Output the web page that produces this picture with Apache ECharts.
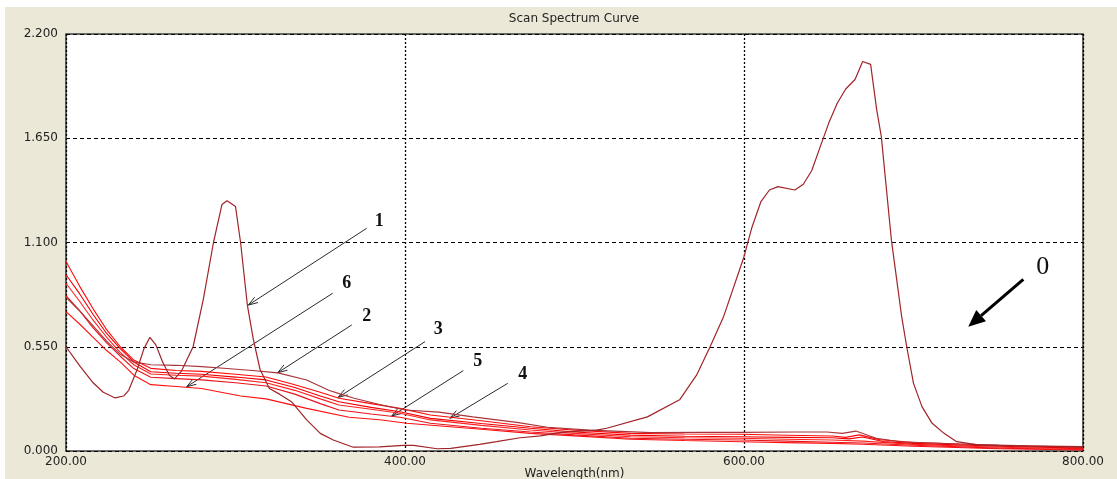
<!DOCTYPE html>
<html>
<head>
<meta charset="utf-8">
<script src="https://cdn.jsdelivr.net/npm/echarts@6/dist/echarts.min.js"></script>
<style>
  html, body { margin: 0; padding: 0; background: #ffffff; }
  #panel { position: absolute; left: 5px; top: 7px; width: 1112px; height: 472px; background: #ebe8d8; }
  #chart { position: absolute; left: 0; top: 0; width: 1117px; height: 479px; }
</style>
</head>
<body>
<div id="panel"></div>
<div id="chart"></div>
<script>
// Absorbance scans, [wavelength nm, absorbance]
const curveDye = [
  [200,0.55],[208,0.45],[216,0.36],[222,0.31],[229,0.28],[234,0.29],[237,0.32],[242,0.43],[246,0.54],
  [249.5,0.60],[253,0.56],[257,0.47],[261,0.40],[264,0.38],[268,0.42],[275,0.55],[281,0.80],[287,1.10],
  [292,1.30],[295,1.32],[300,1.29],[303,1.10],[307,0.77],[310.5,0.59],[314.5,0.43],[320,0.33],[326,0.30],
  [333,0.26],[342,0.164],[350,0.093],[357.7,0.058],[369.5,0.02],[385,0.022],[399,0.03],[405,0.03],
  [419,0.012],[427,0.014],[444,0.035],[454,0.049],[468,0.07],[480,0.08],[493,0.10],[513,0.11],[519,0.12],
  [543,0.18],[562,0.27],[572,0.40],[580,0.55],[588,0.71],[600,1.025],[604.5,1.175],[610,1.316],[615,1.377],
  [620,1.395],[630,1.377],[635,1.407],[640,1.48],[645,1.606],[650,1.73],[655,1.835],[660,1.91],[665.5,1.96],
  [670,2.055],[674.7,2.04],[678.3,1.80],[681,1.66],[687,1.11],[693,0.71],[696,0.55],[700,0.357],[705,0.234],
  [711,0.146],[718,0.093],[725.5,0.049],[740,0.03],[770,0.025],[800,0.02]
];
const curveTop = [
  [200,0.81],[208,0.74],[216,0.66],[224,0.58],[232,0.51],[240,0.47],[250,0.455],[265,0.452],[280,0.445],
  [295,0.435],[310,0.425],[325,0.412],[342,0.375],[355,0.32],[362,0.30],[370,0.278],[385,0.245],[400,0.216],
  [420,0.205],[440,0.18],[466,0.151],[484,0.125],[509,0.11],[545,0.097],[575,0.098],[598,0.098],[630,0.10],
  [649,0.10],[658,0.093],[666,0.105],[678,0.067],[692,0.049],[727,0.037],[767,0.028],[800,0.023]
];
const curveA = [
  [200,1.0],[208,0.87],[216,0.75],[224,0.64],[232,0.55],[240,0.48],[250,0.436],[265,0.425],[280,0.42],
  [300,0.405],[318,0.39],[335,0.35],[350,0.31],[361,0.278],[380,0.25],[397,0.225],[415,0.19],[445,0.16],
  [474,0.128],[500,0.11],[533,0.093],[565,0.09],[598,0.088],[625,0.083],[652,0.079],[660,0.072],[668,0.085],
  [680,0.06],[700,0.045],[750,0.03],[800,0.02]
];
const curveB = [
  [200,0.93],[208,0.83],[216,0.72],[224,0.62],[232,0.54],[240,0.47],[250,0.418],[265,0.41],[280,0.405],
  [300,0.39],[318,0.375],[335,0.335],[350,0.29],[361,0.26],[380,0.23],[397,0.207],[415,0.172],[445,0.145],
  [474,0.12],[500,0.10],[533,0.084],[565,0.078],[598,0.075],[625,0.072],[652,0.07],[662,0.064],[670,0.074],
  [682,0.05],[700,0.04],[750,0.025],[800,0.015]
];
const curveC = [
  [200,0.885],[208,0.79],[216,0.69],[224,0.60],[232,0.52],[240,0.455],[250,0.406],[265,0.40],[280,0.395],
  [300,0.378],[318,0.36],[335,0.32],[350,0.275],[361,0.243],[380,0.22],[397,0.199],[415,0.164],[445,0.135],
  [474,0.111],[500,0.093],[533,0.075],[565,0.07],[598,0.067],[625,0.062],[652,0.058],[670,0.052],[700,0.035],
  [750,0.02],[800,0.012]
];
const curveD = [
  [200,0.82],[208,0.74],[216,0.65],[224,0.57],[232,0.50],[240,0.435],[250,0.389],[265,0.382],[280,0.375],
  [300,0.36],[318,0.343],[335,0.30],[350,0.25],[361,0.216],[380,0.195],[397,0.178],[415,0.146],[445,0.12],
  [474,0.10],[500,0.085],[533,0.067],[565,0.062],[598,0.058],[625,0.052],[652,0.046],[670,0.042],[700,0.03],
  [750,0.015],[800,0.008]
];
const curveLow = [
  [200,0.735],[208,0.67],[216,0.60],[224,0.53],[232,0.47],[240,0.40],[250,0.35],[265,0.34],[280,0.33],
  [303,0.29],[318,0.275],[342,0.225],[367,0.178],[385,0.165],[401,0.146],[421,0.132],[445,0.115],[474,0.093],
  [500,0.08],[533,0.062],[565,0.055],[598,0.049],[625,0.044],[652,0.04],[670,0.036],[700,0.025],[750,0.012],
  [800,0.005]
];

// Callouts: label, arrow tip and tail, label anchor (data coordinates)
const callouts = [
  { label: '1', tip: [307.6, 0.770], tail: [377.4, 1.175], text: [384.8, 1.21] },
  { label: '6', tip: [271.2, 0.339], tail: [357.3, 0.832], text: [365.6, 0.885] },
  { label: '2', tip: [324.9, 0.413], tail: [368.6, 0.665], text: [377.4, 0.709] },
  { label: '3', tip: [360.6, 0.283], tail: [411.8, 0.577], text: [419.6, 0.644] },
  { label: '5', tip: [392.2, 0.185], tail: [434.4, 0.424], text: [442.9, 0.471] },
  { label: '4', tip: [426.5, 0.173], tail: [460.6, 0.357], text: [469.4, 0.406] }
];
const zeroCallout = { label: '0', tip: [732.3, 0.656], tail: [764.8, 0.906], text: [776.2, 0.969] };

const xTicks = { min: 200, max: 800, step: 200 };
const yTicks = { min: 0, max: 2.2, step: 0.55 };

const FONT = 'DejaVu Sans';
const chart = echarts.init(document.getElementById('chart'), null, { renderer: 'canvas' });

function line(name, data, color, width) {
  return {
    name, type: 'line', data, showSymbol: false, smooth: false, animation: false,
    lineStyle: { color, width: width || 1.1 }, emphasis: { disabled: true }
  };
}

chart.setOption({
  backgroundColor: 'transparent',
  animation: false,
  grid: {
    left: 66, right: 34, top: 34, bottom: 28, outerBoundsMode: 'none', containLabel: false,
    show: true, backgroundColor: '#ffffff', borderColor: '#3c3c3c', borderWidth: 1.6
  },
  xAxis: {
    type: 'value', min: xTicks.min, max: xTicks.max, interval: xTicks.step,
    name: 'Wavelength(nm)', nameLocation: 'middle', nameGap: 17, nameMoveOverlap: false,
    nameTextStyle: { color: '#222', fontSize: 12, fontFamily: FONT, verticalAlign: 'top' },
    axisLine: { show: false }, axisTick: { show: false },
    axisLabel: { color: '#222', fontSize: 12, fontFamily: FONT, margin: 5,
      formatter: v => v.toFixed(2) },
    splitLine: { show: true, lineStyle: { color: '#000', type: [2, 2], width: 1.3 } }
  },
  yAxis: {
    type: 'value', min: yTicks.min, max: yTicks.max, interval: yTicks.step,
    axisLine: { show: false }, axisTick: { show: false },
    axisLabel: { color: '#222', fontSize: 12, fontFamily: FONT, margin: 8,
      formatter: v => v.toFixed(3) },
    splitLine: { show: true, lineStyle: { color: '#000', type: [4, 3], width: 1 } }
  },
  series: [
    line('low', curveLow, '#ff1010'),
    line('d', curveD, '#e8141c'),
    line('c', curveC, '#ff2020'),
    line('b', curveB, '#f00000'),
    line('a', curveA, '#ff0a0a'),
    line('top', curveTop, '#a8343a'),
    line('dye', curveDye, '#a02428', 1.2)
  ]
});

// Annotation layer: title, numbered callouts and arrows
function px(p) { return chart.convertToPixel({ gridIndex: 0 }, p); }

const graphics = [{
  type: 'text', x: 574, y: 19, silent: true,
  style: { text: 'Scan Spectrum Curve', fill: '#222', font: '12px "DejaVu Sans"',
    textAlign: 'center', textVerticalAlign: 'middle' }
}];

callouts.forEach(c => {
  const t = px(c.tip), s = px(c.tail), l = px(c.text);
  const ang = Math.atan2(s[1] - t[1], s[0] - t[0]);
  const len = 10, spread = 0.32;
  const h1 = [t[0] + len * Math.cos(ang + spread), t[1] + len * Math.sin(ang + spread)];
  const h2 = [t[0] + len * Math.cos(ang - spread), t[1] + len * Math.sin(ang - spread)];
  graphics.push({ type: 'line', silent: true, shape: { x1: s[0], y1: s[1], x2: t[0], y2: t[1] },
    style: { stroke: '#2a2a2a', lineWidth: 1 } });
  graphics.push({ type: 'polyline', silent: true, shape: { points: [h1, t, h2] },
    style: { stroke: '#2a2a2a', lineWidth: 1, fill: null } });
  graphics.push({ type: 'text', x: l[0], y: l[1], silent: true,
    style: { text: c.label, fill: '#111', font: 'bold 18px "Liberation Serif"',
      textAlign: 'center', textVerticalAlign: 'middle' } });
});

(function () {
  const c = zeroCallout;
  const t = px(c.tip), s = px(c.tail), l = px(c.text);
  const ang = Math.atan2(s[1] - t[1], s[0] - t[0]);
  const headLen = 17, headHalf = 7.5;
  const bx = t[0] + headLen * Math.cos(ang), by = t[1] + headLen * Math.sin(ang);
  const nx = -Math.sin(ang), ny = Math.cos(ang);
  graphics.push({ type: 'line', silent: true, shape: { x1: s[0], y1: s[1], x2: bx, y2: by },
    style: { stroke: '#000', lineWidth: 3 } });
  graphics.push({ type: 'polygon', silent: true,
    shape: { points: [t, [bx + nx * headHalf, by + ny * headHalf], [bx - nx * headHalf, by - ny * headHalf]] },
    style: { fill: '#000' } });
  graphics.push({ type: 'text', x: l[0], y: l[1], silent: true,
    style: { text: c.label, fill: '#111', font: '26px "Liberation Serif"',
      textAlign: 'center', textVerticalAlign: 'middle' } });
})();

chart.setOption({ graphic: graphics });
</script>
</body>
</html>
